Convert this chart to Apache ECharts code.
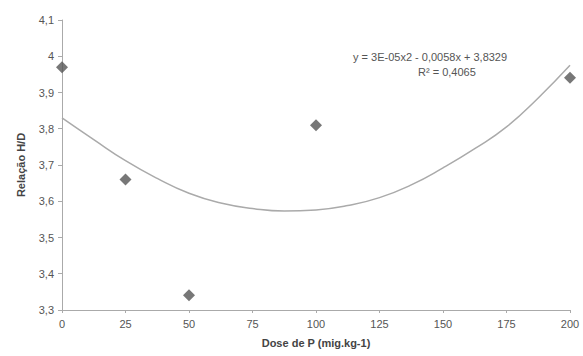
<!DOCTYPE html>
<html>
<head>
<meta charset="utf-8">
<script src="https://cdn.jsdelivr.net/npm/echarts@6/dist/echarts.min.js"></script>
<style>html,body{margin:0;padding:0;background:#fff}#c{width:583px;height:356px}</style>
</head>
<body>
<div id="c"></div>
<script>
var doseX = [0, 25, 50, 100, 200];
var relacaoHD = [3.97, 3.66, 3.341, 3.81, 3.941];
var trendX = [0, 12.5, 25, 37.5, 50, 62.5, 75, 87.5, 100, 112.5, 125, 137.5, 150, 162.5, 175, 187.5, 200];
var trendY = [3.83, 3.77, 3.712, 3.663, 3.622, 3.595, 3.58, 3.573, 3.576, 3.588, 3.61, 3.645, 3.692, 3.745, 3.805, 3.885, 3.975];
var xTicks = [0, 25, 50, 75, 100, 125, 150, 175, 200];
var yTicks = [3.3, 3.4, 3.5, 3.6, 3.7, 3.8, 3.9, 4, 4.1];
var eqLine1 = 'y = 3E-05x2 - 0,0058x + 3,8329';
var eqLine2 = 'R² = 0,4065';

var chart = echarts.init(document.getElementById('c'), null, {renderer: 'svg'});
var font = 'Liberation Sans, Arial, sans-serif';
chart.setOption({
  animation: false,
  backgroundColor: '#fff',
  grid: {left: 62, right: 13, top: 20, bottom: 46},
  xAxis: {
    type: 'value', min: 0, max: 200, interval: 25,
    name: 'Dose de P (mig.kg-1)', nameLocation: 'middle', nameGap: 27,
    nameTextStyle: {fontFamily: font, fontWeight: 'bold', fontSize: 11, color: '#444'},
    axisLine: {lineStyle: {color: '#aaa'}},
    axisTick: {show: true, length: 3, lineStyle: {color: '#aaa'}},
    axisLabel: {fontFamily: font, fontSize: 11, color: '#555', margin: 8},
    splitLine: {show: false}
  },
  yAxis: {
    type: 'value', min: 3.3, max: 4.1, interval: 0.1,
    name: 'Relação H/D', nameLocation: 'middle', nameGap: 36, nameRotate: 90,
    nameTextStyle: {fontFamily: font, fontWeight: 'bold', fontSize: 11, color: '#444'},
    axisLine: {show: true, lineStyle: {color: '#aaa'}},
    axisTick: {show: true, length: 4, lineStyle: {color: '#aaa'}},
    axisLabel: {fontFamily: font, fontSize: 11, color: '#555', margin: 8,
      formatter: function (v) { return String(Math.round(v * 10) / 10).replace('.', ','); }},
    splitLine: {show: false}
  },
  series: [
    {
      type: 'line', smooth: true, showSymbol: false,
      data: trendX.map(function (x, i) { return [x, trendY[i]]; }),
      lineStyle: {color: '#aaa', width: 1.5},
      z: 1
    },
    {
      type: 'scatter', symbol: 'diamond', symbolSize: 12,
      data: doseX.map(function (x, i) { return [x, relacaoHD[i]]; }),
      itemStyle: {color: '#555'},
      z: 2
    }
  ],
  graphic: [
    {type: 'text', left: 353, top: 51, style: {text: eqLine1, font: '11px ' + font, fill: '#555'}},
    {type: 'text', left: 418, top: 66, style: {text: eqLine2, font: '11px ' + font, fill: '#555'}}
  ]
});
</script>
</body>
</html>
